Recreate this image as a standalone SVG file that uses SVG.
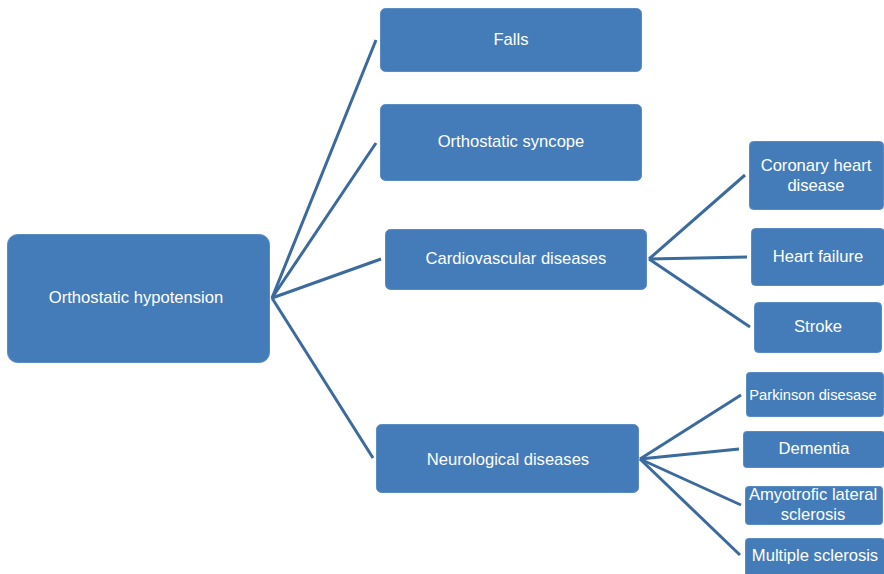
<svg xmlns="http://www.w3.org/2000/svg" width="884" height="574" viewBox="0 0 884 574">
<style>
.box{fill:#447cb9;stroke:#5a8cc4;stroke-width:1}
.t{font-family:"Liberation Sans",Arial,sans-serif;font-size:16.6px;fill:#ffffff;text-anchor:middle;dominant-baseline:central}
.s{font-size:14.7px}
.c{stroke:#3b6a9d;stroke-width:3;fill:none}
</style>
<rect width="884" height="574" fill="#ffffff"/>
<g id="connectors">
<line class="c" x1="272" y1="298" x2="376" y2="40"/>
<line class="c" x1="272" y1="298" x2="376" y2="143"/>
<line class="c" x1="272" y1="298" x2="381" y2="259"/>
<line class="c" x1="272" y1="298" x2="373" y2="458"/>
<line class="c" x1="649" y1="259" x2="745" y2="175"/>
<line class="c" x1="649" y1="259" x2="747" y2="257"/>
<line class="c" x1="649" y1="259" x2="750" y2="327"/>
<line class="c" x1="640" y1="459" x2="741" y2="395"/>
<line class="c" x1="640" y1="459" x2="739" y2="449"/>
<line class="c" x1="640" y1="459" x2="741" y2="505"/>
<line class="c" x1="640" y1="459" x2="740" y2="555"/>
</g>
<g id="oh"><rect class="box" x="7.5" y="234.5" width="262" height="128" rx="10"/><text class="t" x="136" y="297">Orthostatic hypotension</text></g>
<g id="falls"><rect class="box" x="380.5" y="8.5" width="261" height="63" rx="5"/><text class="t" x="511" y="39">Falls</text></g>
<g id="syncope"><rect class="box" x="380.5" y="104.5" width="261" height="76" rx="5"/><text class="t" x="511" y="141">Orthostatic syncope</text></g>
<g id="cardio"><rect class="box" x="385.5" y="229.5" width="261" height="60" rx="5"/><text class="t" x="516" y="258">Cardiovascular diseases</text></g>
<g id="neuro"><rect class="box" x="376.5" y="424.5" width="262" height="68" rx="5"/><text class="t" x="508" y="459">Neurological diseases</text></g>
<g id="chd"><rect class="box" x="749.5" y="141.5" width="134" height="68" rx="4"/><text class="t" x="816" y="165">Coronary heart</text><text class="t" x="816" y="185">disease</text></g>
<g id="hf"><rect class="box" x="751.5" y="228.5" width="133" height="57" rx="4"/><text class="t" x="818" y="256">Heart failure</text></g>
<g id="stroke"><rect class="box" x="754.5" y="302.5" width="127" height="50" rx="4"/><text class="t" x="818" y="326">Stroke</text></g>
<g id="pd"><rect class="box" x="746.5" y="372.5" width="137" height="44" rx="3"/><text class="t s" x="813" y="395">Parkinson disesase</text></g>
<g id="dementia"><rect class="box" x="743.5" y="431.5" width="141" height="36" rx="3"/><text class="t" x="814" y="448">Dementia</text></g>
<g id="als"><rect class="box" x="745.5" y="486.5" width="137" height="38" rx="3"/><text class="t" x="813" y="494">Amyotrofic lateral</text><text class="t" x="813" y="514">sclerosis</text></g>
<g id="ms"><rect class="box" x="745.5" y="538.5" width="139" height="40" rx="3"/><text class="t" x="815" y="555">Multiple sclerosis</text></g>
</svg>
